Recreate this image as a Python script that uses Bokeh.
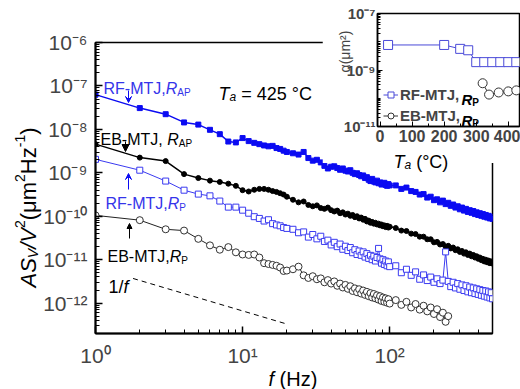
import math
from bokeh.plotting import figure
from bokeh.models import (FixedTicker, CustomJSTickFormatter, Label, Arrow, VeeHead,
                          NormalHead, Legend, LegendItem)
from bokeh.layouts import column
from bokeh.embed import file_html
from bokeh.resources import INLINE

# ---------------- data ----------------
# frequency grid of the sampled points (Hz)
freq = (list(range(1, 21)) + list(range(22, 101, 2)) + list(range(110, 501, 10)))
freq_eb_p = (list(range(1, 21)) + list(range(22, 101, 2)) + list(range(110, 251, 10)))

# log10 of A*S_V/V^2 (um^2 Hz^-1)
rf_ap_exp = [
    -7.20, -7.51, -7.65, -7.84, -7.89, -8.01, -8.11, -8.28, -8.30, -8.20,
    -8.27, -8.31, -8.34, -8.37, -8.39, -8.38, -8.43, -8.45, -8.49, -8.52,
    -8.55, -8.58, -8.52, -8.66, -8.72, -8.70, -8.76, -8.84, -8.90, -8.86,
    -8.85, -8.89, -8.93, -8.90, -8.95, -8.97, -8.94, -9.00, -9.03, -9.01,
    -9.05, -9.08, -9.06, -9.12, -9.10, -9.16, -9.19, -9.14, -9.20, -9.22,
    -9.18, -9.24, -9.22, -9.27, -9.25, -9.23, -9.28, -9.30, -9.26, -9.29,
    -9.29, -9.37, -9.34, -9.42, -9.44, -9.50, -9.49, -9.57, -9.55, -9.63,
    -9.61, -9.68, -9.64, -9.72, -9.69, -9.76, -9.73, -9.80, -9.77, -9.84,
    -9.80, -9.87, -9.83, -9.90, -9.86, -9.92, -9.88, -9.95, -9.91, -9.97,
    -9.93, -9.99, -9.95, -10.01, -9.97, -10.03, -9.99, -10.05, -10.01, -10.06]

eb_ap_exp = [
    -8.34, -8.65, -8.73, -9.03, -9.12, -9.18, -9.21, -9.25, -9.30, -9.40,
    -9.43, -9.39, -9.37, -9.37, -9.39, -9.42, -9.44, -9.47, -9.50, -9.55,
    -9.62, -9.68, -9.66, -9.74, -9.77, -9.75, -9.81, -9.83, -9.80, -9.86,
    -9.89, -9.87, -9.93, -9.91, -9.96, -9.94, -9.99, -9.97, -10.02, -10.00,
    -10.05, -10.03, -10.08, -10.06, -10.12, -10.10, -10.15, -10.13, -10.17, -10.15,
    -10.19, -10.17, -10.21, -10.19, -10.23, -10.21, -10.25, -10.22, -10.26, -10.24,
    -10.27, -10.33, -10.34, -10.40, -10.41, -10.47, -10.47, -10.53, -10.53, -10.60,
    -10.59, -10.65, -10.64, -10.70, -10.68, -10.74, -10.72, -10.78, -10.76, -10.82,
    -10.80, -10.86, -10.83, -10.89, -10.86, -10.92, -10.89, -10.95, -10.92, -10.98,
    -10.95, -11.01, -10.98, -11.04, -11.00, -11.06, -11.02, -11.08, -11.04, -11.09]

rf_p_exp = [
    -8.69, -8.94, -9.19, -9.40, -9.49, -9.53, -9.65, -9.79, -9.79, -9.86,
    -9.93, -10.01, -10.05, -10.11, -10.08, -10.17, -10.20, -10.22, -10.26, -10.28,
    -10.30, -10.38, -10.36, -10.48, -10.42, -10.52, -10.46, -10.58, -10.55, -10.66,
    -10.60, -10.70, -10.64, -10.76, -10.69, -10.79, -10.72, -10.84, -10.77, -10.88,
    -10.80, -10.90, -10.82, -10.94, -10.86, -10.97, -10.90, -11.00, -10.92, -11.03,
    -10.95, -10.74, -10.98, -11.08, -11.00, -11.11, -11.03, -11.14, -11.05, -11.16,
    -11.14, -11.30, -11.22, -11.36, -11.28, -11.45, -11.35, -11.48, -11.40, -11.52,
    -11.44, -11.55, -11.47, -10.82, -11.50, -11.62, -11.52, -11.65, -11.55, -11.68,
    -11.58, -11.71, -11.60, -11.74, -11.63, -11.76, -11.65, -11.78, -11.67, -11.80,
    -11.69, -11.82, -11.71, -11.84, -11.72, -11.86, -11.74, -11.88, -11.76, -11.90]

eb_p_exp = [
    -9.98, -10.09, -10.30, -10.33, -10.52, -10.67, -10.77, -10.71, -10.83, -10.88,
    -10.89, -10.88, -10.95, -11.08, -11.10, -11.12, -11.14, -11.18, -11.26, -11.25,
    -11.22, -11.16, -11.36, -11.42, -11.38, -11.45, -11.43, -11.52, -11.47, -11.55,
    -11.50, -11.60, -11.55, -11.64, -11.58, -11.67, -11.61, -11.72, -11.66, -11.75,
    -11.68, -11.78, -11.71, -11.81, -11.74, -11.84, -11.77, -11.87, -11.79, -11.89,
    -11.82, -11.92, -11.84, -11.95, -11.87, -11.97, -11.89, -11.99, -11.91, -12.01,
    -11.93, -12.04, -11.97, -12.10, -12.02, -12.15, -12.06, -12.19, -12.10, -12.25,
    -12.14, -12.32, -12.22, -12.43, -12.30]

# 1/f guide line
guide_f = [1.8, 20.0]
guide_s = [3.7e-12, 3.3e-13]

# inset: alpha vs annealing temperature
ta_rf = [25, 200, 250, 275, 300, 325, 350, 375, 400, 425]
alpha_rf = [7.7e-9, 7.7e-9, 5.6e-9, 5.0e-9, 1.9e-9, 1.9e-9, 1.9e-9, 1.9e-9, 1.9e-9, 1.9e-9]
ta_eb = [320, 340, 370, 400, 425]
alpha_eb = [3.4e-10, 1.35e-10, 1.6e-10, 1.75e-10, 1.9e-10]

main_xticks = [1, 10, 100]
main_yticks = [1e-12, 1e-11, 1e-10, 1e-9, 1e-8, 1e-7, 1e-6]
inset_xticks = [0, 100, 200, 300, 400]
inset_yticks = [1e-11, 1e-9, 1e-7]

# ---------------- styling helpers ----------------
FONT = "Liberation Sans"
BLUE = "#0b0bf2"
BLUE_OPEN = "#3a3af0"
BLUE_TXT = "#3434ea"
INSET_BLUE = "#4a4ad8"
WIDTH, HEIGHT = 520, 389

W = {'A': 667, 'B': 667, 'C': 722, 'E': 667, 'F': 611, 'H': 722, 'J': 500, 'M': 833,
     'P': 667, 'R': 722, 'S': 667, 'T': 611, 'V': 667, 'a': 556, 'f': 278, 'm': 833,
     'z': 500, '\u03bc': 576, '\u03b1': 578, '(': 333, ')': 333, '-': 333, ',': 278,
     ' ': 278, '/': 278, '=': 584, '\u00b0': 400}


def tw(s, size):
    return sum(W.get(c, 556) for c in s) * size / 1000.0


SUP_JS = """
const m = {'-':'\u207b','0':'\u2070','1':'\u00b9','2':'\u00b2','3':'\u00b3','4':'\u2074',
           '5':'\u2075','6':'\u2076','7':'\u2077','8':'\u2078','9':'\u2079'};
const e = Math.round(Math.log10(tick));
return '10' + String(e).split('').map(c => m[c]).join('');
"""


def no_align(fig):
    try:
        fig.frame_align = False
    except Exception:
        pass


# ---------------- main plot ----------------
p = figure(width=WIDTH, height=HEIGHT, x_axis_type="log", y_axis_type="log",
           x_range=(1, 500), y_range=(2e-13, 1e-6),
           output_backend="svg", toolbar_location=None,
           min_border_left=95, min_border_right=28, min_border_top=42, min_border_bottom=56)
no_align(p)
p.xgrid.visible = False
p.ygrid.visible = False
p.outline_line_color = "black"
p.outline_line_width = 1.5

for ax in (p.xaxis[0], p.yaxis[0]):
    ax.axis_line_width = 2
    ax.major_tick_in = 7
    ax.major_tick_out = 0
    ax.minor_tick_in = 4
    ax.minor_tick_out = 0
    ax.major_tick_line_width = 1.5
    ax.minor_tick_line_width = 1
    ax.major_label_text_font = FONT
    ax.major_label_text_font_size = "21px"
    ax.formatter = CustomJSTickFormatter(code=SUP_JS)

p.xaxis.ticker = FixedTicker(ticks=main_xticks,
                             minor_ticks=[m * 10 ** k for k in range(3) for m in range(2, 10) if m * 10 ** k <= 500])
p.yaxis.ticker = FixedTicker(ticks=main_yticks,
                             minor_ticks=[m * 10.0 ** k for k in range(-13, -6) for m in range(2, 10)])
p.xaxis.major_label_standoff = 10
p.yaxis.major_label_standoff = 8

p.line(freq, [10 ** v for v in rf_ap_exp], line_color=BLUE, line_width=1.5)
p.scatter(freq, [10 ** v for v in rf_ap_exp], marker="square", size=5, color=BLUE)

p.line(freq, [10 ** v for v in eb_ap_exp], line_color="black", line_width=1.5)
p.scatter(freq, [10 ** v for v in eb_ap_exp], marker="circle", size=5, color="black")

p.line(freq, [10 ** v for v in rf_p_exp], line_color=BLUE_OPEN, line_width=1)
p.scatter(freq, [10 ** v for v in rf_p_exp], marker="square", size=6, line_color=BLUE_OPEN,
          fill_color="white", line_width=1)

p.line(freq_eb_p, [10 ** v for v in eb_p_exp], line_color="#222222", line_width=1)
p.scatter(freq_eb_p, [10 ** v for v in eb_p_exp], marker="circle", size=7, line_color="#333333",
          fill_color="white", line_width=1)

p.line(guide_f, guide_s, line_color="black", line_width=1, line_dash="5 4")


def mconv(px, py):
    # page pixel -> main frame screen units
    return px - 95, 333 - py


def arrow(px, py0, py1, color, head):
    x0, y0 = mconv(px, py0)
    x1, y1 = mconv(px, py1)
    p.add_layout(Arrow(end=head, x_start=x0, y_start=y0, x_end=x1, y_end=y1,
                       start_units="screen", end_units="screen", line_color=color, line_width=1))


arrow(128, 90, 102, BLUE, VeeHead(size=6, line_color=BLUE, fill_color=BLUE, line_width=1))
arrow(125, 141, 151, "black", NormalHead(size=7, fill_color="black", line_color="black"))
arrow(128, 189, 173, BLUE, VeeHead(size=6, line_color=BLUE, fill_color=BLUE, line_width=1))
arrow(129, 238, 223, "black", NormalHead(size=5, fill_color="black", line_color="black"))

# ---------------- inset ----------------
ins = figure(width=198, height=163, y_axis_type="log", x_range=(-8, 435), y_range=(1e-11, 1e-7),
             output_backend="svg", toolbar_location=None,
             min_border_left=55, min_border_right=1, min_border_top=13, min_border_bottom=37)
no_align(ins)
ins.margin = (-HEIGHT, 0, HEIGHT - 163, 322)
ins.xgrid.visible = False
ins.ygrid.visible = False
ins.outline_line_color = "black"
ins.outline_line_width = 1.5

for ax in (ins.xaxis[0], ins.yaxis[0]):
    ax.axis_line_width = 1.5
    ax.major_tick_in = 5
    ax.major_tick_out = 0
    ax.minor_tick_in = 3
    ax.minor_tick_out = 0
    ax.major_label_text_font = FONT
    ax.major_label_text_font_style = "bold"

ins.xaxis.major_label_text_font_size = "16px"
ins.yaxis.major_label_text_font_size = "15px"
ins.xaxis.ticker = FixedTicker(ticks=inset_xticks, minor_ticks=[50, 150, 250, 350])
ins.xaxis.major_label_standoff = 3
ins.yaxis.ticker = FixedTicker(ticks=inset_yticks,
                               minor_ticks=[m * 10.0 ** k for k in range(-11, -7) for m in range(2, 11)])
ins.yaxis.formatter = CustomJSTickFormatter(code=SUP_JS)
ins.yaxis.major_label_standoff = 2

rf_l = ins.line(ta_rf, alpha_rf, line_color=INSET_BLUE, line_width=1)
rf_s = ins.scatter(ta_rf, alpha_rf, marker="square", size=9, line_color=INSET_BLUE,
                   fill_color="white", line_width=1)
eb_l = ins.line(ta_eb, alpha_eb, line_color="#333333", line_width=1)
eb_s = ins.scatter(ta_eb, alpha_eb, marker="circle", size=9, line_color="#333333",
                   fill_color="white", line_width=1)

leg = Legend(items=[LegendItem(label="RF-MTJ,", renderers=[rf_l, rf_s]),
                    LegendItem(label="EB-MTJ,", renderers=[eb_l, eb_s])],
             location=(6, 0), margin=0, padding=0, spacing=0,
             glyph_width=15, glyph_height=21, label_height=21, label_standoff=2,
             label_text_font=FONT, label_text_font_size="15px", label_text_font_style="bold",
             border_line_color=None, background_fill_alpha=0)
ins.add_layout(leg)

# ---------------- transparent text layer over everything ----------------
ov = figure(width=WIDTH, height=HEIGHT, x_range=(0, 1), y_range=(0, 1),
            x_axis_location=None, y_axis_location=None,
            output_backend="svg", toolbar_location=None,
            min_border_left=0, min_border_right=0, min_border_top=0, min_border_bottom=0)
no_align(ov)
ov.margin = (-HEIGHT, 0, 0, 0)
ov.xgrid.visible = False
ov.ygrid.visible = False
ov.outline_line_color = None
ov.background_fill_color = None
ov.border_fill_color = None


def rich(px, py, parts, color="black", angle=0.0):
    x, y = px, HEIGHT - py
    adv = 0.0
    for text, size, style, shift in parts:
        body = text.lstrip(" ")
        adv += tw(text[:len(text) - len(body)], size)   # leading spaces are advanced by hand
        if angle == 0.0:
            lx, ly = x + adv, y - shift
        else:
            lx, ly = x + shift, y + adv
        ov.add_layout(Label(x=lx, y=ly, x_units="screen", y_units="screen", text=body,
                            text_font=FONT, text_font_size=f"{size}px", text_font_style=style,
                            text_color=color, text_align="left", text_baseline="alphabetic",
                            angle=angle))
        adv += tw(body, size)


# main annotations
rich(103, 88, [("RF-MTJ,", 16, "normal", 0), ("R", 16, "italic", 0), ("AP", 10, "normal", 4)], BLUE_TXT)
rich(218, 93, [("T", 18, "italic", 0), ("a", 12, "italic", 3), (" = 425 \u00b0C", 18, "normal", 0)])
rich(100, 139, [("EB-MTJ, ", 16, "normal", 0), ("R", 16, "italic", 0), ("AP", 10, "normal", 4)])
rich(105, 203, [("RF-MTJ,", 16, "normal", 0), ("R", 16, "italic", 0), ("P", 10, "normal", 4)], BLUE_TXT)
rich(107, 256, [("EB-MTJ,", 16, "normal", 0), ("R", 16, "italic", 0), ("P", 10, "normal", 4)])
rich(108, 286, [("1/", 18, "normal", 0), ("f", 18, "italic", 0)])

# main axis titles
rich(268, 378, [("f", 20, "italic", 0), (" (Hz)", 20, "normal", 0)])
rich(28, 287, [("AS", 22, "italic", 0), ("V", 14, "italic", 4), ("/V", 22, "italic", 0),
               ("2", 14, "normal", -9), ("(\u03bcm", 22, "normal", 0), ("2", 14, "normal", -9),
               ("Hz", 22, "normal", 0), ("-1", 14, "normal", -9), (")", 22, "normal", 0)],
     angle=math.pi / 2)

# inset texts
rich(461, 99, [("R", 15, "bold italic", 0), ("P", 10, "bold", 3)])
rich(461, 120, [("R", 15, "bold italic", 0), ("P", 10, "bold", 3)])
ov.add_layout(Label(x=344, y=HEIGHT - 51, x_units="screen", y_units="screen",
                    text="\u03b1(\u03bcm\u00b2)", text_font=FONT, text_font_size="14px",
                    text_align="center", text_baseline="alphabetic", angle=math.pi / 2))
rich(393, 161, [("T", 18, "italic", 0), ("a", 12, "italic", 3), (" (\u00b0C)", 18, "normal", 0)])

layout = column(p, ins, ov)
open("out.html", "w").write(file_html(layout, INLINE))
